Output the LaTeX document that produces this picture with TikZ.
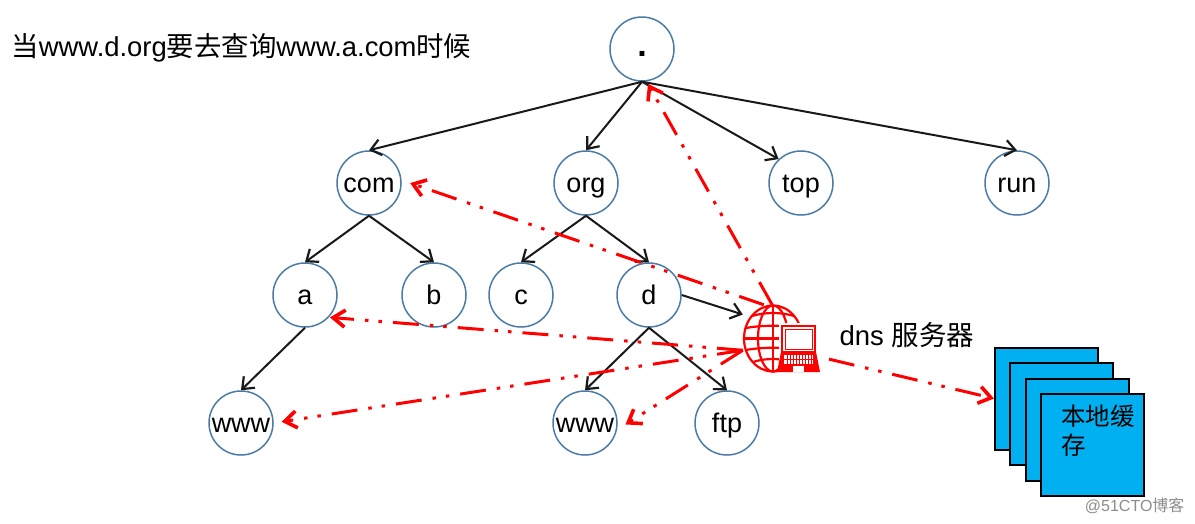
\documentclass[tikz,border=0pt]{standalone}
\usepackage{fontspec}
\setmainfont{Liberation Sans}
\newfontfamily\cjk{Noto Sans CJK SC}
\usetikzlibrary{arrows.meta}
\definecolor{ringblue}{HTML}{4A7BA6}
\definecolor{cacheblue}{HTML}{00B0F0}
\tikzset{
  dom/.style={circle,draw=ringblue,line width=1.5pt,minimum size=64pt,inner sep=0pt,text height=20pt,text depth=2pt,font=\fontsize{27}{27}\selectfont},
  edge/.style={-{Straight Barb[length=10pt,width=16pt,line width=2.2pt]},line width=2pt,black!90},
  query/.style={-{Straight Barb[length=12pt,width=17pt,line width=3.6pt]},red,line width=3pt,dash pattern=on 26pt off 11pt on 3.5pt off 10pt on 3.5pt off 11pt},
  cache/.style={draw=black,line width=2pt,fill=cacheblue,minimum width=103pt,minimum height=102pt,inner sep=0pt},
  globe/.style={red,line width=2.2pt},
}
\begin{document}
\begin{tikzpicture}[x=1pt,y=-1pt]
\useasboundingbox (0,0) rectangle (1195,523);
\node[anchor=west,font=\fontsize{27.4}{27.4}\selectfont] (title) at (8,47.5) {{\cjk 当}www.d.org{\cjk 要去查询}www.a.com{\cjk 时候}};
% tree nodes
\node[dom,text height=16pt,font=\fontsize{34}{34}\bfseries] (root) at (642,49) {.};
\node[dom] (com) at (369,183) {com};
\node[dom] (org) at (586,183) {org};
\node[dom] (top) at (801,183) {top};
\node[dom] (run) at (1017,183) {run};
\node[dom] (a) at (305,295) {a};
\node[dom] (b) at (434,295) {b};
\node[dom] (c) at (521,295) {c};
\node[dom] (d) at (649,295) {d};
\node[dom] (wwwa) at (241,423) {www};
\node[dom] (wwwd) at (585,423) {www};
\node[dom] (ftp) at (727,423) {ftp};
\node[minimum width=78pt,minimum height=68pt,inner sep=0pt] (server) at (782,339) {};
\node[anchor=west,font=\fontsize{27.5}{27.5}\selectfont] (dnslabel) at (836,335) {dns {\cjk 服务器}};
% cache stack
\node[cache] (cache1) at (1046.5,398.5) {};
\node[cache] (cache2) at (1061.5,414) {};
\node[cache] (cache3) at (1077,429.5) {};
\node[cache] (cache4) at (1092.5,445) {};
\node[anchor=north west,align=left,inner sep=0pt,font=\fontsize{24.5}{29}\cjk] (cachelabel) at (1061,405) {本地缓\\存};
\node[anchor=east,text=black!45,font=\fontsize{16}{16}\selectfont] (mark) at (1188,506) {@51CTO{\cjk 博客}};
% tree edges
\draw[edge] (root.south) -- (com.north);
\draw[edge] (root.south) -- (org.north);
\draw[edge] (root.south) -- (top.133);
\draw[edge] (root.south) -- (run.north);
\draw[edge] (com.south) -- (a.north);
\draw[edge] (com.south) -- (b.north);
\draw[edge] (org.south) -- (c.north);
\draw[edge] (org.south) -- (d.north);
\draw[edge] (a.south) -- (wwwa.north);
\draw[edge] (d.south) -- (wwwd.north);
\draw[edge] (d.south) -- (ftp.north);
\draw[edge] (d.east) -- (server.148);
% server icon
\draw[globe] (773,338.5) ellipse (29pt and 33pt);
\draw[globe] (773,338.5) ellipse (15pt and 33pt);
\draw[globe] (773,306) -- (773,371) (744,338.5) -- (802,338.5);
\draw[globe] (752,316) .. controls (765,312) and (781,312) .. (794,316);
\draw[globe] (746,328) .. controls (762,325) and (784,325) .. (800,328);
\draw[globe] (746,350) .. controls (762,347) and (784,347) .. (800,350);
\draw[globe] (753,362) .. controls (765,358) and (781,358) .. (793,362);
\fill[white] (779,323) rectangle (819,373);
\draw[red,line width=2pt,fill=white] (782,326) rectangle (815,352);
\draw[red,line width=1pt] (785,329) rectangle (812,349);
\fill[red] (781,352) -- (816,352) -- (820,372) -- (777,372) -- cycle;
\fill[white] (784,355) rectangle (813,364);
\foreach \k in {787,790,...,811} \draw[red,line width=.8pt] (\k,355) -- (\k,364);
\draw[red,line width=.8pt] (784,359.5) -- (813,359.5);
\fill[white] (793,366) rectangle (804,372);
% query arrows
\draw[query,shorten >=3pt] (server.106) -- (root.-82);
\draw[query,shorten >=9pt] (server.118) -- (com.5);
\draw[query,shorten >=1pt] (server.196) -- (a.-43);
\draw[query,shorten >=8pt] (server.196) -- (wwwa.east);
\draw[query,shorten >=10pt] (server.196) -- (wwwd.-12);
\draw[query,shorten <=8pt] (server.-25) -- (cache1.west);
\end{tikzpicture}
\end{document}
